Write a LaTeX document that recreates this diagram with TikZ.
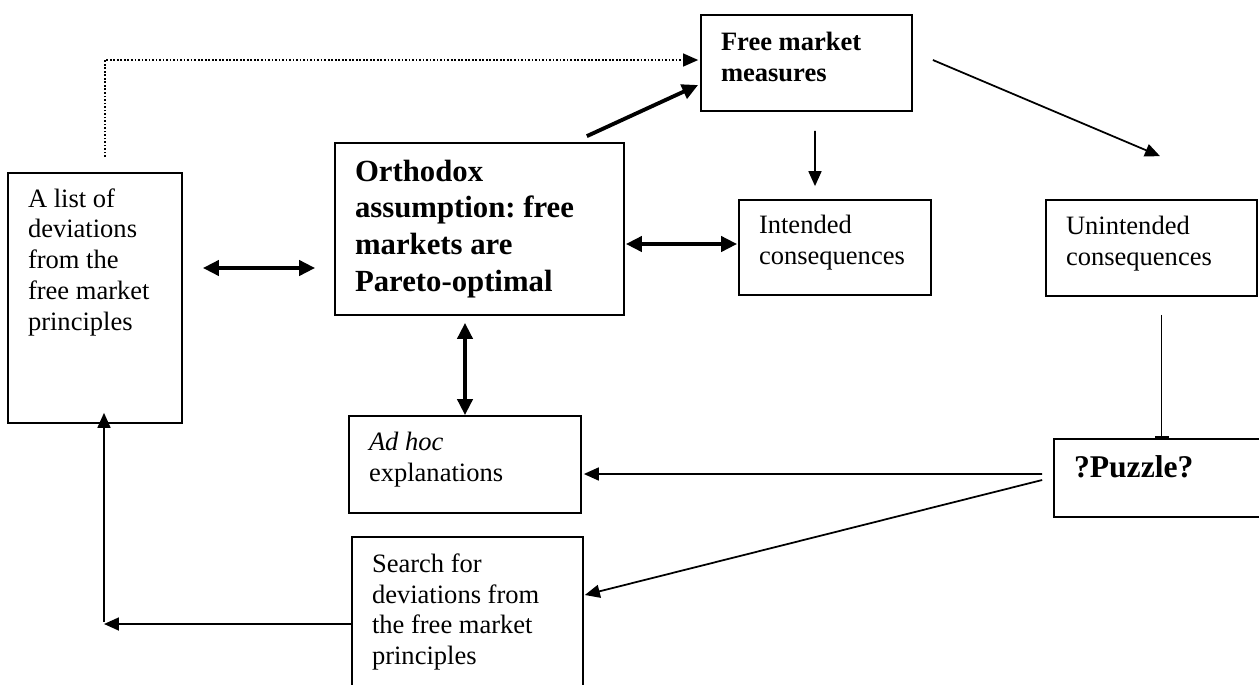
\documentclass[tikz,border=0pt]{standalone}
\usepackage{fontspec}
\setmainfont{Liberation Serif}
\usetikzlibrary{calc, arrows.meta}
\newcommand{\padbot}[1]{\rule[-#1]{0pt}{#1}}

\begin{document}
\frenchspacing
\begin{tikzpicture}[x=0.02cm, y=-0.02cm]
	\tikzset{box/.style={rectangle, draw, line width=1pt, align=flush left, inner xsep=0.4cm, inner ysep=0pt, font=\fontsize{15.1}{17.6}\selectfont}}
	\tikzset{boldbox/.style={box, font=\fontsize{15.1}{17.6}\selectfont\bfseries}}
	\tikzset{arr/.style={-{Triangle[length=0.3cm, width=0.26cm]}, line width=1pt}}
	\tikzset{dblarr/.style={{Triangle[length=0.32cm, width=0.3cm]}-{Triangle[length=0.32cm, width=0.3cm]}, line width=2.2pt}}
	\useasboundingbox (0,0) rectangle (1259,684);
	\clip (0,0) rectangle (1259,684);
	\node[boldbox, text width=3.42cm, minimum height=1.92cm] (fmm) at (806.5,63) {Free market\\ measures\padbot{0.26cm}};
	\node[box, text width=2.68cm, minimum height=5cm] (list) at (95,298) {A list of\\ deviations\\ from the\\ free market\\ principles\padbot{1.54cm}};
	\node[box, text width=4.98cm, minimum height=3.44cm, font=\fontsize{17.5}{21}\selectfont\bfseries] (ortho) at (479.5,229) {Orthodox\\ assumption: free\\ markets are\\ Pareto-optimal};
	\node[box, text width=3.04cm, minimum height=1.9cm] (intd) at (835,247.5) {Intended\\ consequences\padbot{0.3cm}};
	\node[box, text width=3.42cm, minimum height=1.92cm] (unint) at (1151.5,248) {Unintended\\ consequences\padbot{0.3cm}};
	\node[box, text width=3.42cm, minimum height=1.56cm, font=\fontsize{18}{21}\selectfont\bfseries] (puzzle) at (1159.5,478) {?Puzzle?\padbot{0.44cm}};
	\node[box, text width=3.84cm, minimum height=1.94cm] (adhoc) at (465,464.5) {\textit{Ad hoc}\\ explanations\padbot{0.3cm}};
	\node[box, text width=3.82cm, minimum height=3cm] (search) at (467.5,612) {Search for\\ deviations from\\ the free market\\ principles};
	\coordinate (dotstart) at (105,157);
	\coordinate (corner) at (104,624);
	\draw[arr, densely dotted, line width=0.7pt] (dotstart) |- ($(fmm.west)+(-2,-3)$);
	\draw[arr, line width=2.2pt, -{Triangle[length=0.32cm, width=0.3cm]}] ($(ortho.north east)+(-38,-6)$) -- ($(fmm.west)+(-2,22)$);
	\draw[arr] ($(fmm.south)+(8.5,19)$) -- ($(intd.north)+(-20,-13)$);
	\draw[arr] ($(fmm.east)+(20,-3)$) -- ($(unint.north)+(8.5,-43)$);
	\draw[dblarr] ($(list.east)+(20,-30)$) -- ($(ortho.west)+(-19,39)$);
	\draw[dblarr] ($(ortho.east)+(1,15)$) -- ($(intd.west)+(-1,-3.5)$);
	\draw[dblarr] ($(ortho.south)+(-14.5,7)$) -- (adhoc.north);
	\draw[line width=1pt, -{Bar[width=0.28cm]}] ($(unint.south)+(10,18)$) -- ($(puzzle.north)+(2,0)$);
	\draw[arr] ($(puzzle.west)+(-11,-4)$) -- ($(adhoc.east)+(2,9.5)$);
	\draw[arr] ($(puzzle.west)+(-11,2)$) -- ($(search.east)+(1,-17)$);
	\draw[arr] ($(search.west)+(0,12)$) -- (corner);
	\draw[arr] ($(corner)+(0,-2)$) -- ($(list.south)+(9,-11)$);
\end{tikzpicture}
\end{document}
